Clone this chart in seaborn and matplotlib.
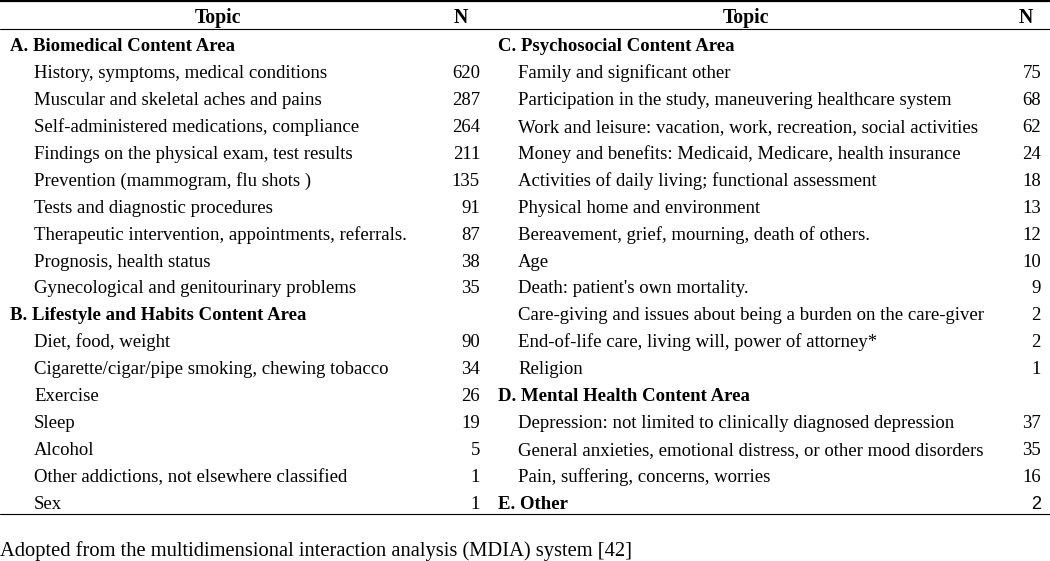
import matplotlib
matplotlib.use("Agg")
import matplotlib.pyplot as plt
import seaborn as sns

# left half of the table
left_sections = ["A. Biomedical Content Area", "B. Lifestyle and Habits Content Area"]
left_topics = [
    ["History, symptoms, medical conditions",
     "Muscular and skeletal aches and pains",
     "Self-administered medications, compliance",
     "Findings on the physical exam, test results",
     "Prevention (mammogram, flu shots )",
     "Tests and diagnostic procedures",
     "Therapeutic intervention, appointments, referrals.",
     "Prognosis, health status",
     "Gynecological and genitourinary problems"],
    ["Diet, food, weight",
     "Cigarette/cigar/pipe smoking, chewing tobacco",
     "Exercise",
     "Sleep",
     "Alcohol",
     "Other addictions, not elsewhere classified",
     "Sex"],
]
left_n = [
    [620, 287, 264, 211, 135, 91, 87, 38, 35],
    [90, 34, 26, 19, 5, 1, 1],
]

# right half of the table
right_sections = ["C. Psychosocial Content Area", "D. Mental Health Content Area", "E. Other"]
right_topics = [
    ["Family and significant other",
     "Participation in the study, maneuvering healthcare system",
     "Work and leisure: vacation, work, recreation, social activities",
     "Money and benefits: Medicaid, Medicare, health insurance",
     "Activities of daily living; functional assessment",
     "Physical home and environment",
     "Bereavement, grief, mourning, death of others.",
     "Age",
     "Death: patient's own mortality.",
     "Care-giving and issues about being a burden on the care-giver",
     "End-of-life care, living will, power of attorney*",
     "Religion"],
    ["Depression: not limited to clinically diagnosed depression",
     "General anxieties, emotional distress, or other mood disorders",
     "Pain, suffering, concerns, worries"],
    [],
]
right_n = [
    [75, 68, 62, 24, 18, 13, 12, 10, 9, 2, 2, 1],
    [37, 35, 16],
    [],
]
other_n = 2

header = ["Topic", "N"]
footnote = "Adopted from the multidimensional interaction analysis (MDIA) system [42]"

sns.set_theme(style="white")
plt.rcParams["font.family"] = ["Liberation Serif", "DejaVu Serif"]
plt.rcParams["text.color"] = "black"

FS = 13.5
W, H = 1050, 561
row0, pitch = 51, 26.94

fig = plt.figure(figsize=(10.5, 5.61), dpi=100)
ax = fig.add_axes([0, 0, 1, 1])
ax.set_xlim(0, W)
ax.set_ylim(H, 0)
ax.axis("off")


def draw_half(sections, topics, counts, x_sec, x_item, x_num):
    row = 0
    for sec, tops, ns in zip(sections, topics, counts):
        ax.text(x_sec, row0 + row * pitch, sec, fontsize=FS, fontweight="bold",
                va="baseline", ha="left")
        row += 1
        for t, n in zip(tops, ns):
            y = row0 + row * pitch
            ax.text(x_item, y, t, fontsize=FS, va="baseline", ha="left")
            ax.text(x_num, y, str(n), fontsize=FS, va="baseline", ha="right")
            row += 1
    return row


draw_half(left_sections, left_topics, left_n, 10, 34, 480)
last = draw_half(right_sections, right_topics, right_n, 498, 518, 1041)
ax.text(1041, row0 + (last - 1) * pitch, str(other_n), fontsize=FS - 0.5,
        va="baseline", ha="right", family="Liberation Sans")

# header
for x, lab in zip([218, 461, 746, 1026], header * 2):
    ax.text(x, 23, lab, fontsize=14.3, fontweight="bold", ha="center", va="baseline")

# rules
ax.axhline(1, color="black", lw=1.6)
ax.axhline(28.5, color="black", lw=0.8)
ax.axhline(514, color="black", lw=0.8)

ax.text(0, 556, footnote, fontsize=14.8, ha="left", va="baseline")

fig.savefig("out.png", dpi=100)
